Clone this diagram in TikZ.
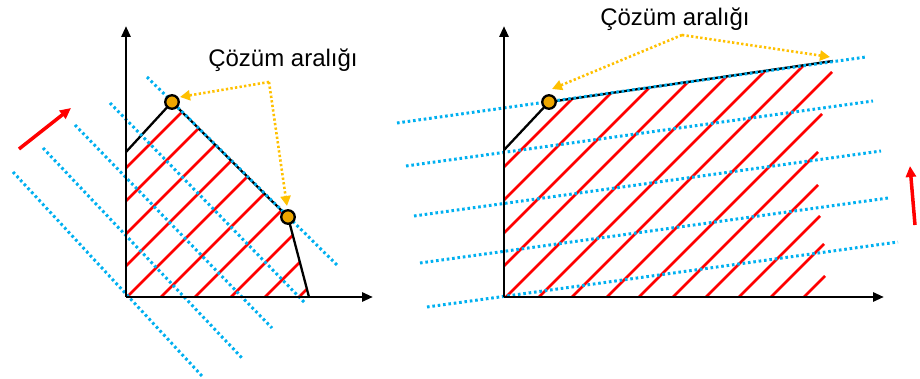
\documentclass[tikz,border=0pt]{standalone}
\usepackage{fontspec}
\setmainfont{Liberation Sans}
\usetikzlibrary{arrows.meta}
\definecolor{dotblue}{HTML}{00B0F0}
\definecolor{dotorange}{HTML}{FFC000}
\definecolor{circfill}{HTML}{EDA600}
\tikzset{
  axis/.style={line width=2.8pt,-{Triangle[length=11pt,width=9pt]}},
  edge/.style={line width=2.3pt,black},
  blueline/.style={dotblue,line width=3pt,dash pattern=on 2.6pt off 2.8pt},
  hatch/.style={red,line width=2.8pt},
  redarrow/.style={red,line width=3.5pt,-{Triangle[length=11pt,width=10pt]}},
  orangearrow/.style={dotorange,line width=2.6pt,dash pattern=on 2.3pt off 2.3pt,-{Triangle[length=10pt,width=10pt]}},
  vertex/.style={circle,draw=black,line width=2.3pt,fill=circfill,minimum size=13.5pt,inner sep=0pt},
  label/.style={font=\fontsize{24}{28}\selectfont,anchor=base,inner sep=0pt}
}
\begin{document}
\begin{tikzpicture}[x=1pt,y=-1pt]
\useasboundingbox (0,0) rectangle (920,379);
% ================= LEFT =================
\coordinate (LO) at (126,297);
\coordinate (LYt) at (126,26);
\coordinate (LXt) at (373,297);
\coordinate (LA) at (126,152);
\coordinate (LB) at (172,102);
\coordinate (LC) at (288,217);
\coordinate (LD) at (309,297);
% hatch
\begin{scope}
  \clip (LO) -- (LA) -- (LB) -- (LC) -- (LD) -- cycle;
  \foreach \s in {294,327,360,392,424,458,492,528,562,596,630} {
    \draw[hatch] (\s-320,320) -- (\s-60,60);
  }
\end{scope}
% blue dotted lines
\coordinate (lb1s) at (147,77); \coordinate (lb1e) at (338,266);
\coordinate (lb2s) at (110,103); \coordinate (lb2e) at (305,303);
\coordinate (lb3s) at (75,125); \coordinate (lb3e) at (272,328);
\coordinate (lb4s) at (43,148); \coordinate (lb4e) at (242,358);
\coordinate (lb5s) at (13,172); \coordinate (lb5e) at (202,376);
% polygon edges
\draw[edge] (LA) -- (LB) -- (LC) -- (LD);
\foreach \i in {1,...,5} \draw[blueline] (lb\i s) -- (lb\i e);
% axes
\draw[axis] (LO) -- (LYt);
\draw[axis] (LO) -- (LXt);
% vertices
\node[vertex] (v1) at (LB) {};
\node[vertex] (v2) at (LC) {};
% label and arrows
\node[label] (t1) at (283,67) {Çözüm aralığı};
\coordinate (lap) at (269,82);
\draw[orangearrow] (lap) -- (180,97);
\draw[orangearrow] (lap) -- (287,206);
% red arrow
\coordinate (lr1) at (19,149);
\coordinate (lr2) at (71,108);
\draw[redarrow] (lr1) -- (lr2);
% ================= RIGHT =================
\coordinate (RO) at (504,297);
\coordinate (RYt) at (504,26);
\coordinate (RXt) at (884,297);
\coordinate (RA) at (504,150);
\coordinate (RB) at (549,102);
\coordinate (RC) at (833,61);
\begin{scope}
  \clip (RO) -- (RA) -- (RB) -- (RC) -- (900,61) -- (900,297) -- cycle;
  \foreach \s/\xe in {671/900,704/900,737/900,770/900,803/900,836/900,869/900,904/832,936/822,970/818,1003/818,1036/820,1068/824,1101/825} {
    \draw[hatch] (\s-320,320) -- (\xe,\s-\xe);
  }
\end{scope}
\draw[edge] (RA) -- (RB) -- (RC);
\coordinate (rb1s) at (397,123); \coordinate (rb1e) at (866,57);
\coordinate (rb2s) at (406,166); \coordinate (rb2e) at (873,101);
\coordinate (rb3s) at (414,216); \coordinate (rb3e) at (881,151);
\coordinate (rb4s) at (420,263); \coordinate (rb4e) at (888,198);
\coordinate (rb5s) at (427,307); \coordinate (rb5e) at (898,242);
\foreach \i in {1,...,5} \draw[blueline] (rb\i s) -- (rb\i e);
\draw[axis] (RO) -- (RYt);
\draw[axis] (RO) -- (RXt);
\node[vertex] (v3) at (RB) {};
\node[label] (t2) at (675,26) {Çözüm aralığı};
\coordinate (rap) at (682,35);
\draw[orangearrow] (rap) -- (552,89);
\draw[orangearrow] (rap) -- (830,57);
\coordinate (rr1) at (915,225);
\coordinate (rr2) at (910,166);
\draw[redarrow] (rr1) -- (rr2);
\end{tikzpicture}
\end{document}
